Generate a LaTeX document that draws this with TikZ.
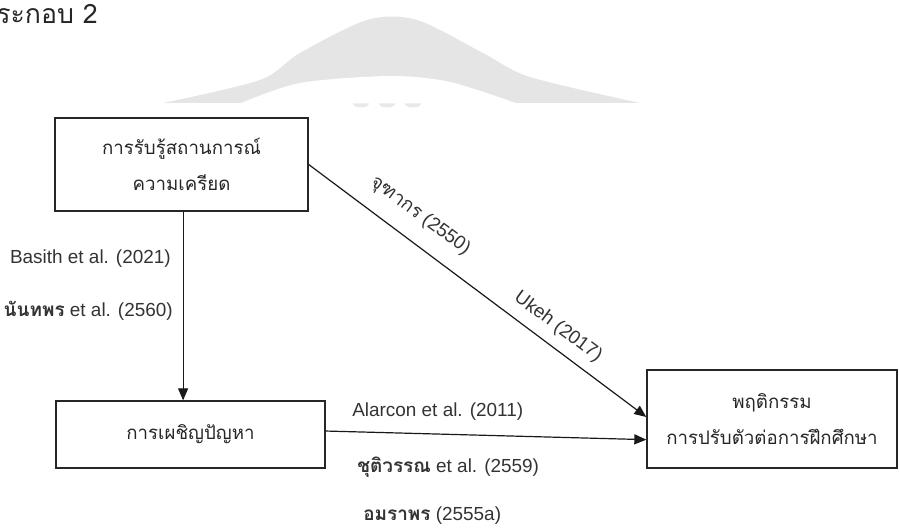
\documentclass[tikz,border=0pt]{standalone}
\usepackage{fontspec}
\setmainfont{Liberation Sans}
\newfontfamily\thaifont[Script=Thai]{Loma}
\usetikzlibrary{arrows.meta}
\begin{document}
\begin{tikzpicture}[x=0.75pt,y=-0.75pt,
  box/.style={draw=black!85, line width=1pt, align=center, inner sep=0pt,
    text=black!85, font=\thaifont\fontsize{14}{27.5}\selectfont},
  arr/.style={-{Triangle[length=9pt,width=7.5pt]}, line width=0.9pt, draw=black!90},
  ref/.style={font=\fontsize{14.2}{16}\selectfont, text=black!80, inner sep=0pt}]
\useasboundingbox (0,0) rectangle (899,530);

% faint watermark arch behind the heading
\fill[black!10]
  plot[smooth] coordinates {(163,103) (260,80) (300,53) (367,20) (417,20) (483,53) (530,77) (640,103)}
  -- cycle;
% its hollow underside
\fill[white]
  plot[smooth] coordinates {(240,103.5) (300,83) (390,76) (450,82) (517,103.5)} -- cycle;
% small marks along the lower edge of the arch
\foreach \cx in {361,387,413}
  \fill[black!9] (\cx-8,103.5) arc[start angle=180, end angle=0, x radius=8, y radius=4];

% heading
\node[anchor=west, inner sep=0pt, font=\thaifont\fontsize{20}{24}\selectfont, text=black!85]
  (title) at (-4,14) {ระกอบ 2};

% variables
\node[box, minimum width=189.75pt, minimum height=69.75pt] (stress) at (181.5,164.5)
  {การรับรู้สถานการณ์\\ความเครียด};
\node[box, minimum width=201.75pt, minimum height=50.25pt] (coping) at (190.5,434.5)
  {การเผชิญปัญหา};
\node[box, minimum width=187.5pt, minimum height=73.5pt] (adapt) at (772,419)
  {พฤติกรรม\\การปรับตัวต่อการฝึกศึกษา};

% paths
\draw[arr] ([xshift=1.2pt]stress.south) -- ([xshift=1.2pt]stress.south |- coping.north);
\draw[arr] (stress.east) -- ([yshift=1.5pt]adapt.west);
\draw[arr] ([yshift=2.6pt]coping.east) -- ([yshift=-15.5pt]adapt.west);

% path references
\node[ref, anchor=east] (r1) at (171,259) {Basith et al. (2021)};
\node[ref, anchor=east] (r2) at (173,311) {{\thaifont\bfseries นันทพร} et al. (2560)};
\node[ref, rotate=-36.6] (r3) at (420,216) {{\thaifont จุฑากร} (2550)};
\node[ref, rotate=-36.6] (r4) at (558,327) {Ukeh (2017)};
\node[ref, anchor=west] (r5) at (352,412) {Alarcon et al. (2011)};
\node[ref, anchor=west] (r6) at (357,467) {{\thaifont\bfseries ชุติวรรณ} et al. (2559)};
\node[ref, anchor=west] (r7) at (363,516) {{\thaifont\bfseries อมราพร} (2555a)};
\end{tikzpicture}
\end{document}
